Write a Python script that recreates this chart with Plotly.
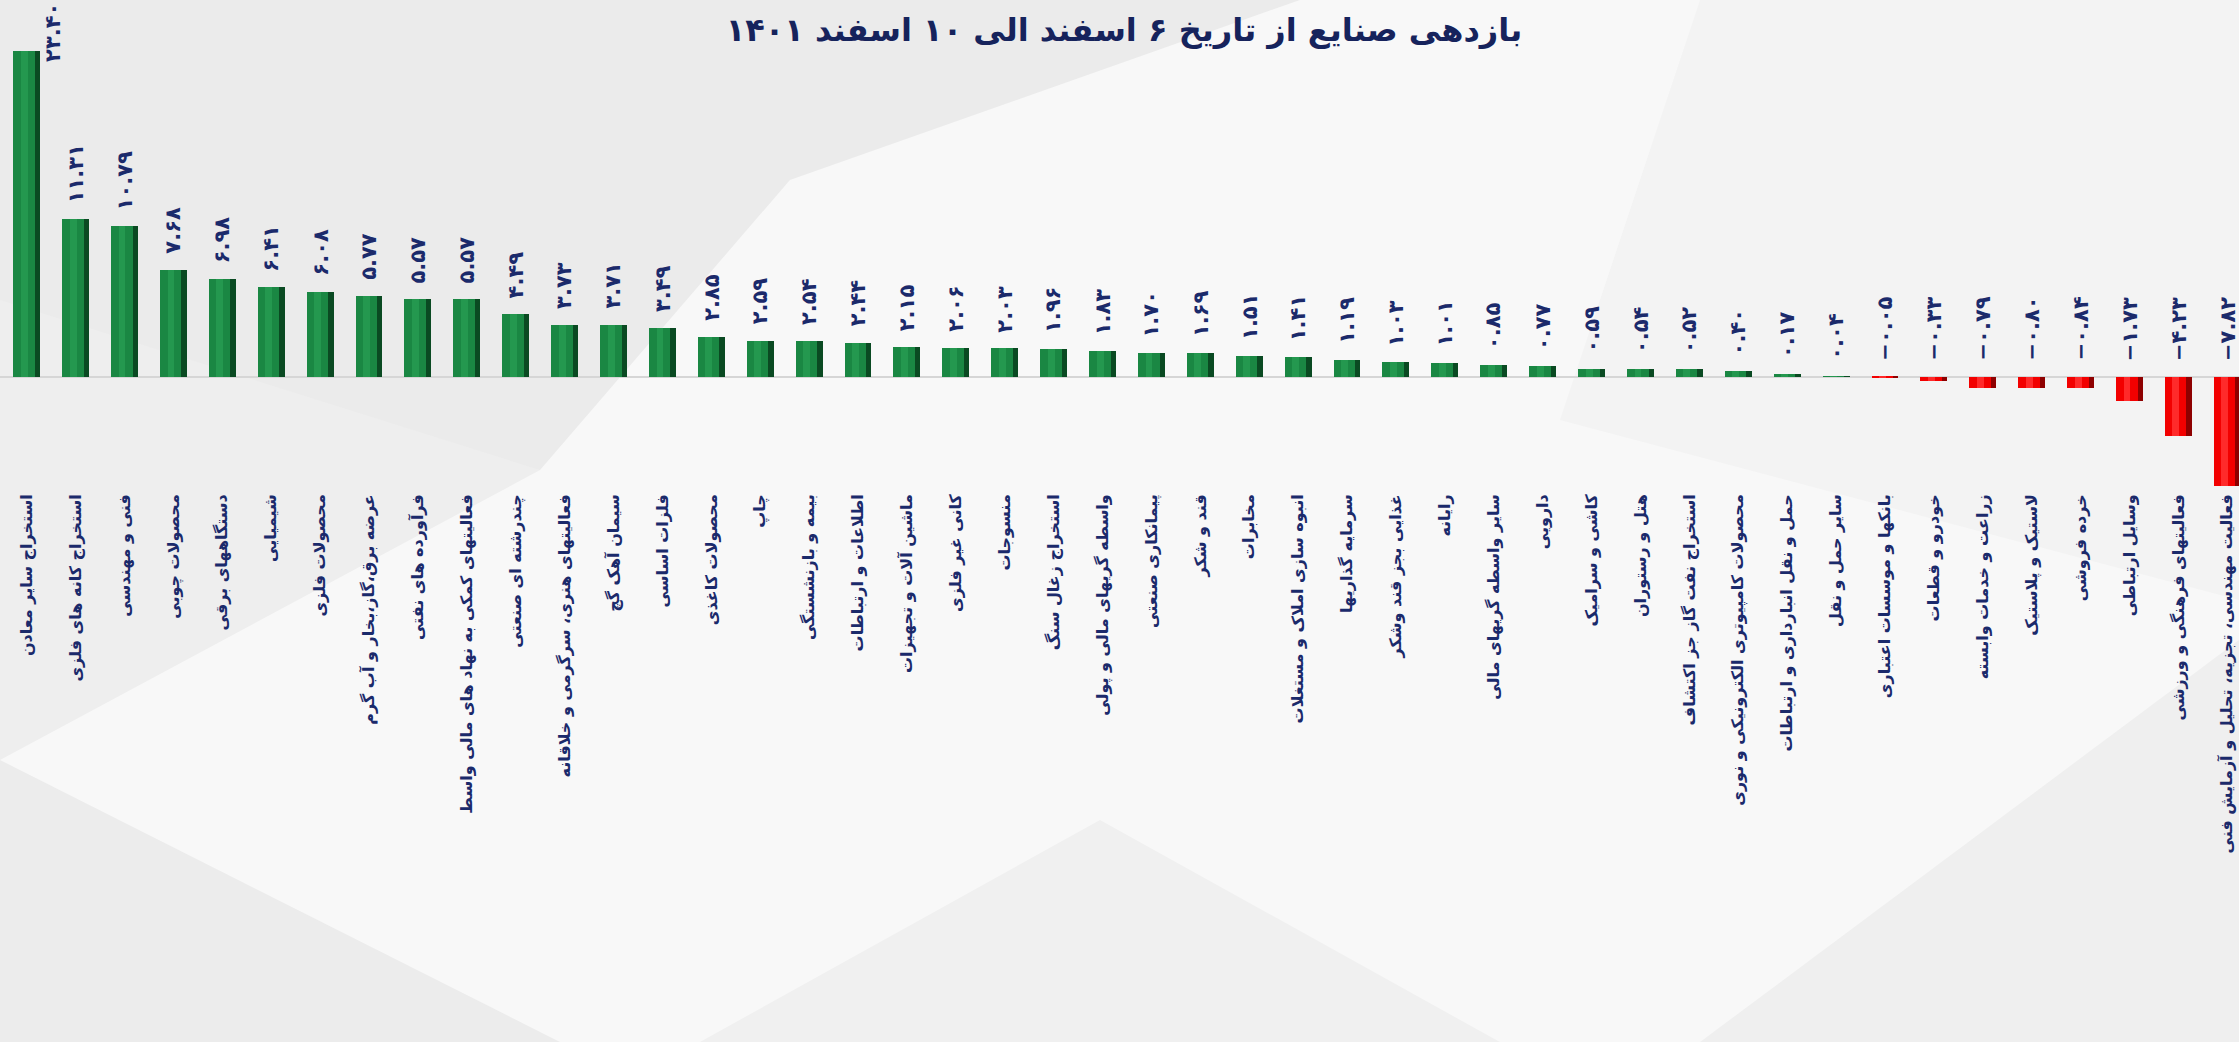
import plotly.graph_objects as go

categories = [
    "استخراج سایر معادن", "استخراج کانه های فلزی", "فنی و مهندسی", "محصولات چوبی",
    "دستگاههای برقی", "شیمیایی", "محصولات فلزی", "عرضه برق،گاز،بخار و آب گرم",
    "فرآورده های نفتی", "فعالیتهای کمکی به نهاد های مالی واسط", "چندرشته ای صنعتی",
    "فعالیتهای هنری، سرگرمی و خلاقانه", "سیمان آهک گچ", "فلزات اساسی", "محصولات کاغذی",
    "چاپ", "بیمه و بازنشستگی", "اطلاعات و ارتباطات", "ماشین آلات و تجهیزات",
    "کانی غیر فلزی", "منسوجات", "استخراج زغال سنگ", "واسطه گریهای مالی و پولی",
    "پیمانکاری صنعتی", "قند و شکر", "مخابرات", "انبوه سازی املاک و مستغلات",
    "سرمایه گذاریها", "غذایی بجز قند وشکر", "رایانه", "سایر واسطه گریهای مالی",
    "دارویی", "کاشی و سرامیک", "هتل و رستوران", "استخراج نفت گاز جز اکتشاف",
    "محصولات کامپیوتری الکترونیکی و نوری", "حمل و نقل انبارداری و ارتباطات",
    "سایر حمل و نقل", "بانکها و موسسات اعتباری", "خودرو و قطعات",
    "زراعت و خدمات وابسته", "لاستیک و پلاستیک", "خرده فروشی", "وسایل ارتباطی",
    "فعالیتهای فرهنگی و ورزشی", "فعالیت مهندسی، تجزیه، تحلیل و آزمایش فنی",
]
returns = [
    23.40, 11.31, 10.79, 7.68, 6.98, 6.41, 6.08, 5.77, 5.57, 5.57, 4.49,
    3.73, 3.71, 3.49, 2.85, 2.59, 2.54, 2.44, 2.15, 2.06, 2.03, 1.96, 1.83,
    1.70, 1.69, 1.51, 1.41, 1.19, 1.03, 1.01, 0.85, 0.77, 0.59, 0.54, 0.52,
    0.40, 0.17, 0.04, -0.05, -0.33, -0.79, -0.80, -0.84, -1.73, -4.23, -7.82,
]
title_text = "بازدهی صنایع از تاریخ ۶ اسفند الی ۱۰ اسفند ۱۴۰۱"

NAVY = "#1b2a6b"
FA_DIGITS = str.maketrans("0123456789", "۰۱۲۳۴۵۶۷۸۹")


def fa_num(v):
    s = f"{abs(v):.2f}".translate(FA_DIGITS)
    return ("−" + s) if v < 0 else s


dark = ["#0a4a22" if v >= 0 else "#8e0000" for v in returns]
main = ["#1a8743" if v >= 0 else "#f20000" for v in returns]
light = ["#24984f" if v >= 0 else "#ff2a2a" for v in returns]

fig = go.Figure()
fig.add_trace(go.Bar(x=categories, y=returns, width=0.55, marker=dict(color=dark, line=dict(width=0)),
                     hoverinfo="skip", showlegend=False))
fig.add_trace(go.Bar(x=categories, y=returns, width=0.44, offset=-0.275,
                     marker=dict(color=main, line=dict(width=0)), hoverinfo="skip", showlegend=False))
fig.add_trace(go.Bar(x=categories, y=returns, width=0.14, offset=-0.12,
                     marker=dict(color=light, line=dict(width=0)), showlegend=False,
                     hovertemplate="%{x}: %{y}<extra></extra>"))

vmax = max(returns)
for c, v in zip(categories, returns):
    top = max(v, 0)
    is_max = v == vmax
    fig.add_annotation(
        x=c, y=top, text=fa_num(v), showarrow=False, textangle=-90,
        xanchor="center", yanchor="bottom",
        xshift=27 if is_max else 0, yshift=-13 if is_max else 14,
        font=dict(family="DejaVu Sans", size=21, color=NAVY, weight="bold"),
    )

# subtle faceted background
W, H, PT, PB = 2239.0, 1042.0, 40.0, 490.0


def P(x, y):
    return f"{x / W:.4f},{(PB - y) / (PB - PT):.4f}"


facets = [
    ([(0, 0), (1300, 0), (790, 180), (540, 470), (0, 420)], "#ebebeb"),
    ([(0, 300), (540, 470), (0, 760)], "#eeeeee"),
    ([(0, 760), (0, 1042), (560, 1042)], "#ececec"),
    ([(700, 1042), (1100, 820), (1500, 1042)], "#f0f0f0"),
    ([(1700, 0), (2239, 0), (2239, 600), (1560, 420)], "#f3f3f3"),
    ([(1700, 1042), (2239, 640), (2239, 1042)], "#efefef"),
]
for pts, col in facets:
    path = "M " + " L ".join(P(x, y) for x, y in pts) + " Z"
    fig.add_shape(type="path", path=path, xref="paper", yref="paper",
                  fillcolor=col, line=dict(width=0), layer="below")

fig.update_layout(
    width=2239, height=1042,
    margin=dict(l=0, r=0, t=40, b=552, autoexpand=False),
    paper_bgcolor="#f8f8f8", plot_bgcolor="rgba(0,0,0,0)",
    barmode="overlay", bargap=0,
    title=dict(text=title_text, x=0.502, xanchor="center", y=0.971, yanchor="middle",
               font=dict(family="DejaVu Sans", size=32, color="#16235c", weight="bold")),
    xaxis=dict(type="category", range=[-0.546, 45.24], tickangle=-90, automargin=False,
               showgrid=False, showline=False, zeroline=False, ticks="",
               tickfont=dict(family="DejaVu Sans", size=16, color=NAVY, weight="bold")),
    yaxis=dict(range=[-8.13, 24.17], visible=True, showticklabels=False, showgrid=False,
               zeroline=True, zerolinecolor="#d6d6d6", zerolinewidth=2, showline=False,
               automargin=False, ticks=""),
)

fig.write_html(
    "out.html",
    config={"displayModeBar": False},
    post_script="document.body.style.margin='0';document.body.style.overflow='hidden';",
)
